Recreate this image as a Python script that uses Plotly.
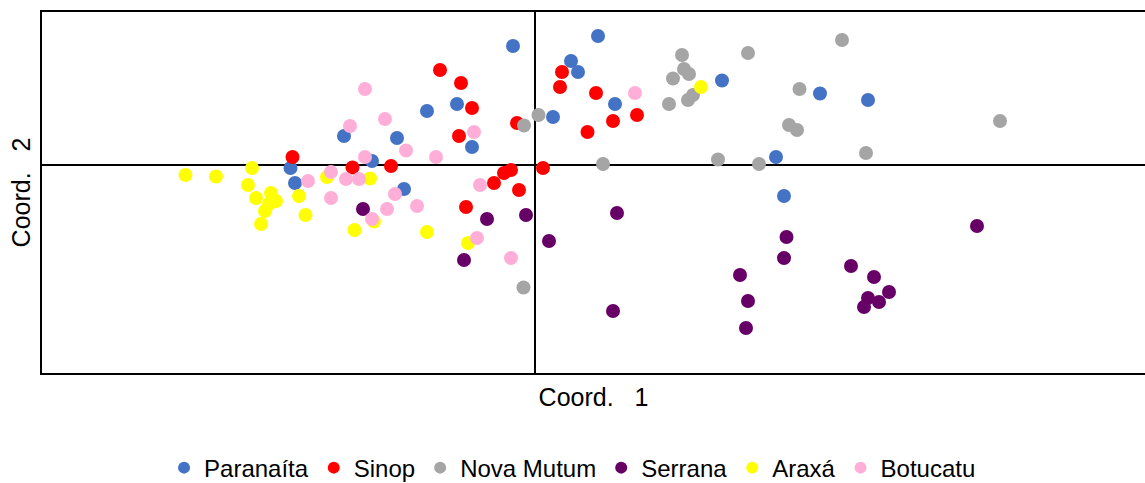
import plotly.graph_objects as go

# ---- Data (PCoA coordinates) ----
groups = ["Paranaíta", "Sinop", "Nova Mutum", "Serrana", "Araxá", "Botucatu"]
colors = ["#4472C4", "#FF0000", "#A5A5A5", "#660066", "#FFFF00", "#FFAFD7"]

paranaita_x = [-0.22, 0.63, 0.36, 0.43, 0.18, 0.80, 1.87, 2.85, 3.33, 2.41, 2.49,
               -1.08, -0.78, -0.63, -1.91, -1.38, -1.63, -1.31, -2.445, -2.40]
paranaita_y = [1.19, 1.29, 1.04, 0.93, 0.48, 0.61, 0.845, 0.715, 0.65, 0.08, -0.31,
               0.54, 0.61, 0.18, 0.29, 0.27, 0.04, -0.24, -0.03, -0.18]

sinop_x = [-0.95, -0.74, -0.63, -0.76, -0.18, 0.27, 0.25, 0.61, 0.525, 0.78, 1.02,
           0.08, -0.24, -0.31, -0.41, -0.16, -0.69, -2.425, -1.825, -1.44]
sinop_y = [0.95, 0.82, 0.57, 0.29, 0.42, 0.93, 0.78, 0.72, 0.33, 0.44, 0.50,
           -0.03, -0.05, -0.08, -0.18, -0.25, -0.42, 0.08, -0.025, -0.01]

novamutum_x = [1.47, 1.49, 1.54, 1.38, 1.34, 1.53, 1.58, 2.13, 2.645, 3.07, 2.54,
               2.62, 4.65, 3.31, 1.83, 2.24, 0.68, 0.035, -0.11, -0.115]
novamutum_y = [1.10, 0.96, 0.91, 0.865, 0.61, 0.65, 0.70, 1.12, 0.76, 1.25, 0.40,
               0.35, 0.44, 0.12, 0.055, 0.01, 0.01, 0.50, 0.395, -1.225]

serrana_x = [0.82, 0.14, -0.09, -0.48, -0.71, -1.72, 0.78, 2.515, 2.49, 2.05, 2.13,
             2.11, 3.16, 3.39, 3.54, 3.33, 3.44, 3.29, 4.42]
serrana_y = [-0.48, -0.76, -0.50, -0.54, -0.95, -0.44, -1.46, -0.72, -0.93, -1.10, -1.36,
             -1.63, -1.01, -1.12, -1.27, -1.33, -1.37, -1.42, -0.61]

araxa_x = [-3.495, -3.19, -2.83, -2.87, -2.79, -2.64, -2.59, -2.70, -2.74, -2.66,
           -2.36, -2.295, -2.08, -1.65, -1.805, -1.61, -1.08, -0.67, 1.66]
araxa_y = [-0.10, -0.115, -0.03, -0.20, -0.33, -0.28, -0.36, -0.46, -0.59, -0.39,
           -0.31, -0.50, -0.12, -0.135, -0.65, -0.565, -0.67, -0.78, 0.78]

botucatu_x = [-1.70, -1.50, -1.85, -1.70, -1.29, -0.99, -0.61, -2.27, -2.04, -1.89,
              -1.76, -2.04, -1.40, -1.48, -1.63, -1.18, -0.55, -0.58, -0.24, 1.00]
botucatu_y = [0.76, 0.46, 0.39, 0.08, 0.145, 0.08, 0.33, -0.16, -0.07, -0.14,
              -0.14, -0.33, -0.29, -0.44, -0.54, -0.41, -0.20, -0.73, -0.93, 0.72]

xs = [paranaita_x, sinop_x, novamutum_x, serrana_x, araxa_x, botucatu_x]
ys = [paranaita_y, sinop_y, novamutum_y, serrana_y, araxa_y, botucatu_y]

x_title = "Coord.\u00a0\u00a0 1"
y_title = "Coord.\u00a0\u00a0 2"

FONT = "Liberation Sans, Arial, sans-serif"

fig = go.Figure()
for name, col, x, y in zip(groups, colors, xs, ys):
    fig.add_trace(go.Scatter(
        x=x, y=y, mode="markers", name=name,
        marker=dict(size=14, color=col, line=dict(width=0)),
    ))

axis_common = dict(
    showgrid=False, showticklabels=False, ticks="",
    showline=True, linecolor="black", linewidth=2,
    zeroline=True, zerolinecolor="black", zerolinewidth=2,
    automargin=False,
)

fig.update_layout(
    width=1145, height=483,
    margin=dict(l=42, r=0, t=12, b=110, autoexpand=False),
    paper_bgcolor="white", plot_bgcolor="white",
    font=dict(family=FONT, size=24, color="black"),
    xaxis=dict(range=[-4.93, 6.10], mirror=True,
               title=dict(text=x_title, standoff=14, font=dict(size=25)),
               **axis_common),
    yaxis=dict(range=[-2.08, 1.53], mirror=False,
               title=dict(text=y_title, standoff=2, font=dict(size=25)),
               **axis_common),
    showlegend=True,
    legend=dict(orientation="h", x=0.481, xanchor="center",
                yref="container", y=0.031, yanchor="middle",
                font=dict(size=24, family=FONT), itemsizing="constant",
                bgcolor="rgba(0,0,0,0)", traceorder="normal"),
)

fig.write_html("out.html")
